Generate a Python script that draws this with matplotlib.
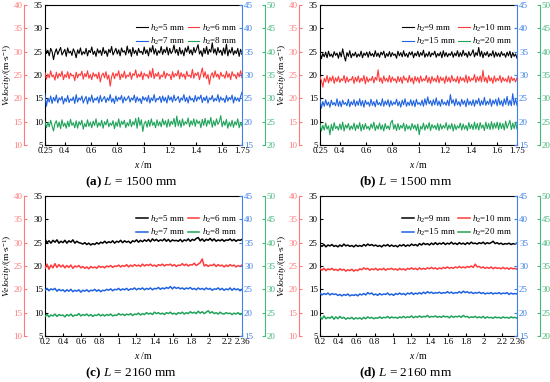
import numpy as np
import matplotlib.pyplot as plt

plt.rcParams['font.family'] = ['Liberation Serif', 'DejaVu Serif']
plt.rcParams['mathtext.fontset'] = 'custom'
plt.rcParams['mathtext.rm'] = 'Liberation Serif'
plt.rcParams['mathtext.it'] = 'Liberation Serif:italic'
plt.rcParams['mathtext.bf'] = 'Liberation Serif:bold'

# velocity samples (m/s); each on its own y axis
# (a) L = 1500 mm
a_h5 = [26.4, 24.6, 25.3, 24.1, 25.7, 25.0, 23.3, 24.8, 25.6, 24.4, 25.2, 25.9, 24.3, 24.9,
        25.5, 24.0, 25.8, 24.7, 25.1, 24.2, 25.6, 24.9, 23.7, 25.4, 24.6, 25.8, 24.3, 25.0,
        24.5, 25.7, 24.1, 25.3, 24.8, 26.0, 24.4, 25.1, 24.0, 25.6, 24.7, 25.3, 24.2, 25.9,
        24.6, 25.2, 24.0, 25.5, 24.8, 26.1, 24.3, 25.0, 25.7, 24.5, 25.4, 24.1, 25.8, 24.9,
        25.2, 24.3, 26.2, 24.7, 25.5, 24.0, 25.9, 24.6, 25.3, 24.2, 25.7, 24.8, 25.1, 24.4,
        26.0, 24.6, 25.4, 24.1, 25.8, 24.9, 26.3, 24.5, 25.6, 24.2, 25.2, 24.7, 26.1, 24.4,
        25.5, 24.8, 26.0, 24.3, 25.7, 24.6, 25.1, 26.4, 24.7, 25.5, 24.2, 25.9, 24.5, 25.3,
        24.1, 25.8, 24.9, 26.2, 24.6, 25.4, 24.3, 25.9, 24.8, 25.6, 26.5, 24.5, 25.2, 24.0,
        25.7, 24.6, 26.1, 24.4, 25.5, 24.9, 26.9, 24.7, 25.6, 24.3, 25.9, 24.8, 25.3, 24.2,
        25.8, 24.5, 26.6, 24.1, 25.4, 24.7, 25.9, 24.3, 25.2, 24.6, 25.7, 24.0, 25.5, 24.4]
a_h6 = [25.5, 24.1, 25.2, 24.4, 25.9, 24.6, 25.0, 23.9, 25.6, 24.3, 25.3, 24.7, 25.8, 24.0,
        25.1, 24.5, 25.7, 24.2, 25.4, 24.8, 25.0, 23.8, 25.6, 24.4, 25.2, 24.9, 25.8, 24.1,
        25.3, 24.6, 25.9, 24.3, 25.1, 24.0, 25.5, 24.7, 25.2, 24.2, 25.6, 23.5, 24.9, 25.4,
        24.4, 25.7, 24.1, 25.0, 22.6, 24.6, 25.5, 24.2, 25.3, 24.8, 25.9, 24.0, 25.2, 24.5,
        25.8, 24.3, 25.0, 24.7, 25.6, 24.1, 25.3, 24.9, 26.1, 24.4, 25.2, 24.6, 25.7, 24.0,
        25.4, 24.8, 25.1, 24.3, 25.9, 24.5, 26.4, 24.2, 25.3, 24.7, 25.6, 24.1, 25.0, 24.6,
        25.8, 24.3, 25.4, 24.9, 25.1, 24.0, 25.7, 24.5, 25.3, 24.8, 26.0, 24.2, 25.5, 24.6,
        25.2, 24.1, 25.8, 24.7, 25.0, 24.4, 26.2, 24.3, 25.4, 24.9, 25.6, 24.0, 25.3, 26.5,
        24.5, 25.7, 24.2, 25.1, 23.0, 24.8, 25.5, 24.4, 25.9, 24.6, 25.2, 24.1, 25.6, 24.7,
        25.0, 24.3, 25.8, 24.5, 25.3, 24.0, 25.7, 24.8, 25.1, 24.2, 25.5, 24.6, 25.9, 24.4]
a_h7 = [25.9, 23.3, 25.0, 24.2, 25.5, 23.9, 25.2, 24.4, 25.7, 24.0, 25.1, 24.6, 25.4, 23.8,
        25.0, 24.3, 25.6, 24.1, 24.9, 24.5, 25.3, 23.9, 25.8, 24.2, 25.1, 24.6, 25.5, 24.0,
        24.8, 25.4, 23.8, 25.2, 24.4, 25.7, 24.1, 25.0, 24.6, 25.3, 24.0, 25.6, 24.3, 24.9,
        25.4, 24.1, 25.1, 24.5, 25.8, 24.2, 25.0, 23.9, 25.5, 24.4, 25.2, 24.7, 25.6, 24.0,
        25.3, 24.5, 24.9, 25.5, 24.2, 25.1, 24.6, 25.7, 24.1, 25.3, 24.4, 25.0, 23.9, 25.4,
        24.6, 25.2, 24.3, 25.6, 24.0, 25.1, 24.5, 25.8, 24.2, 25.0, 24.7, 25.4, 24.1, 25.5,
        24.4, 25.2, 24.0, 25.6, 24.6, 25.3, 24.2, 25.7, 24.5, 24.9, 25.4, 24.1, 25.1, 24.6,
        25.8, 24.3, 25.2, 24.0, 25.5, 24.6, 25.0, 24.2, 25.6, 24.4, 25.3, 24.8, 25.7, 24.1,
        25.2, 24.5, 25.5, 24.0, 25.1, 24.7, 25.6, 24.3, 25.0, 24.5, 25.8, 24.2, 25.3, 24.6,
        25.0, 24.1, 25.6, 24.4, 25.2, 24.7, 25.7, 24.0, 25.3, 24.5, 25.1, 24.3, 25.4, 26.3]
a_h8 = [25.0, 23.7, 24.8, 23.9, 25.3, 24.1, 23.0, 24.6, 25.2, 23.8, 24.9, 23.5, 25.4, 24.0,
        24.7, 23.6, 25.1, 23.9, 25.5, 24.2, 24.8, 23.7, 25.2, 23.6, 25.0, 24.3, 25.3, 23.4,
        24.6, 23.9, 25.4, 24.0, 24.9, 23.7, 25.1, 24.2, 25.6, 23.8, 24.8, 24.1, 25.3, 23.6,
        25.0, 24.3, 25.5, 23.9, 24.7, 24.2, 25.2, 23.5, 24.9, 24.0, 25.6, 23.8, 25.1, 24.4,
        25.3, 23.7, 24.8, 24.1, 25.5, 23.9, 25.0, 24.3, 25.7, 23.6, 25.9, 24.2, 25.4, 22.9,
        24.6, 25.1, 23.8, 25.3, 24.0, 25.6, 24.2, 24.9, 23.7, 25.4, 24.1, 25.0, 23.9, 25.6,
        24.3, 25.2, 23.8, 25.5, 24.0, 25.1, 24.4, 25.7, 23.9, 26.2, 24.1, 25.3, 23.8, 25.6,
        24.2, 25.0, 24.5, 25.8, 23.9, 25.2, 24.3, 25.6, 24.0, 25.4, 24.6, 25.1, 23.7, 25.5,
        24.2, 25.7, 24.0, 25.3, 24.5, 25.9, 23.8, 25.2, 24.1, 25.6, 24.4, 25.0, 26.3, 23.9,
        25.1, 24.2, 25.5, 23.6, 24.9, 24.0, 25.3, 23.8, 25.0, 24.3, 25.6, 23.7, 24.8, 24.1]

# (b) L = 1500 mm
b_h9 = [25.0, 23.5, 24.6, 23.9, 24.9, 23.7, 25.1, 24.0, 24.5, 23.8, 25.0, 24.2, 24.7, 23.6,
        24.9, 23.9, 25.6, 24.1, 23.0, 24.8, 24.0, 25.2, 23.7, 24.6, 24.1, 24.9, 23.8, 24.5,
        24.0, 25.1, 23.7, 24.7, 24.2, 24.9, 23.8, 25.0, 24.1, 24.6, 23.9, 25.2, 24.0, 24.7,
        23.8, 24.9, 24.3, 25.1, 23.7, 24.6, 24.0, 25.0, 23.9, 24.8, 24.2, 24.5, 23.6, 25.1,
        24.1, 24.8, 23.9, 25.2, 24.0, 24.6, 23.8, 24.9, 24.3, 25.0, 23.7, 24.7, 24.1, 25.1,
        23.9, 24.8, 24.2, 25.3, 23.8, 24.6, 24.0, 25.0, 23.9, 24.7, 24.3, 25.1, 23.8, 24.6,
        24.1, 24.9, 23.7, 25.2, 24.0, 24.8, 23.9, 24.6, 24.2, 25.0, 23.8, 24.7, 24.1, 25.2,
        23.9, 24.8, 24.0, 25.3, 24.2, 24.7, 23.8, 25.0, 24.1, 24.6, 25.4, 23.9, 24.8, 24.2,
        25.9, 24.0, 25.1, 23.7, 24.8, 24.2, 25.0, 23.9, 24.6, 24.1, 25.2, 23.8, 24.9, 24.0,
        24.7, 23.9, 25.0, 24.2, 24.6, 23.8, 24.9, 24.1, 25.1, 23.7, 24.8, 24.0, 24.5, 23.6]
b_h10 = [24.6, 23.8, 22.4, 24.3, 23.5, 24.9, 23.3, 24.5, 23.7, 24.8, 23.2, 24.4, 23.6, 24.7,
         23.4, 24.2, 23.8, 24.9, 23.3, 24.6, 23.5, 24.1, 23.9, 24.7, 23.2, 24.5, 23.6, 24.8,
         23.4, 24.3, 23.7, 24.9, 23.1, 24.6, 23.5, 24.2, 23.8, 24.7, 23.3, 24.5, 23.9, 26.1,
         23.6, 24.4, 23.2, 24.8, 23.7, 24.3, 23.5, 24.9, 23.4, 24.6, 23.8, 24.2, 23.3, 24.7,
         23.6, 24.5, 23.2, 24.8, 23.9, 24.3, 23.4, 24.9, 23.6, 24.4, 23.1, 24.7, 23.7, 24.5,
         23.3, 24.8, 23.6, 24.2, 23.8, 24.9, 23.4, 24.5, 23.2, 24.7, 23.7, 24.3, 23.5, 24.9,
         23.3, 24.6, 23.8, 24.4, 23.2, 24.8, 23.6, 24.5, 23.4, 24.9, 23.7, 24.2, 23.5, 24.7,
         23.2, 24.6, 23.8, 24.4, 23.5, 25.0, 23.3, 24.7, 23.6, 24.3, 23.9, 25.1, 23.4, 24.6,
         23.7, 24.8, 23.5, 26.0, 23.6, 24.5, 23.3, 24.9, 23.7, 24.4, 23.2, 24.8, 23.6, 24.3,
         23.8, 24.9, 23.4, 24.5, 23.7, 24.2, 23.5, 24.8, 23.3, 24.6, 23.8, 24.3, 23.5, 24.4]
b_h15 = [24.8, 22.9, 24.3, 23.3, 24.7, 23.5, 24.2, 23.1, 24.6, 23.6, 24.1, 23.4, 24.9, 23.3,
         24.4, 23.2, 24.6, 23.7, 24.1, 23.4, 24.8, 23.2, 24.3, 23.6, 24.7, 23.3, 24.4, 23.5,
         24.9, 23.4, 24.5, 23.1, 24.6, 23.7, 24.2, 23.3, 24.8, 23.5, 24.3, 23.2, 24.7, 23.6,
         24.1, 23.4, 24.9, 23.3, 24.4, 23.6, 24.7, 23.2, 24.5, 23.5, 24.2, 23.7, 24.8, 23.4,
         24.3, 23.1, 24.6, 23.6, 24.9, 23.3, 24.2, 23.5, 24.7, 23.4, 24.5, 23.2, 24.8, 23.7,
         24.1, 23.5, 24.6, 23.3, 24.9, 23.6, 25.3, 23.8, 24.5, 23.4, 24.7, 23.6, 25.1, 23.5,
         24.4, 23.3, 24.8, 23.7, 24.2, 23.5, 24.6, 23.4, 25.8, 23.9, 24.7, 23.4, 24.9, 23.6,
         24.3, 23.3, 24.8, 23.7, 24.5, 23.2, 24.9, 23.6, 24.4, 23.5, 24.7, 23.3, 24.6, 23.8,
         25.0, 23.4, 24.5, 23.6, 25.2, 23.5, 24.4, 23.7, 24.9, 23.3, 24.6, 23.8, 24.8, 23.4,
         25.1, 23.6, 24.5, 23.3, 24.9, 23.7, 25.4, 23.5, 24.6, 23.4, 26.0, 23.6, 24.8, 23.5]
b_h20 = [24.6, 23.0, 24.2, 23.2, 24.7, 23.4, 24.1, 22.2, 24.4, 23.1, 24.8, 23.5, 24.0, 23.2,
         24.5, 23.3, 24.9, 23.0, 24.3, 23.6, 24.6, 23.2, 24.1, 23.4, 24.7, 23.1, 24.3, 23.5,
         24.8, 23.0, 24.4, 23.3, 24.6, 23.5, 24.0, 23.2, 24.5, 23.6, 24.9, 23.1, 24.2, 23.4,
         24.7, 23.3, 24.3, 23.0, 24.6, 23.5, 24.1, 23.3, 24.8, 25.3, 23.4, 24.4, 23.1, 24.6,
         23.3, 24.2, 23.6, 24.7, 23.0, 24.4, 23.4, 24.1, 23.2, 24.6, 23.5, 24.3, 23.1, 24.5,
         22.2, 24.0, 23.4, 24.7, 23.2, 24.3, 23.5, 24.8, 23.1, 24.4, 23.6, 24.2, 23.3, 24.6,
         23.1, 24.5, 23.4, 24.2, 23.6, 24.8, 23.2, 24.3, 23.5, 24.6, 23.0, 24.4, 23.3, 24.1,
         23.6, 24.7, 23.2, 24.5, 23.4, 24.2, 23.1, 24.8, 23.5, 24.4, 23.3, 24.9, 23.4, 24.6,
         23.2, 24.8, 23.6, 24.3, 23.1, 24.9, 23.5, 24.6, 23.3, 25.0, 23.4, 24.7, 23.6, 24.9,
         23.3, 24.8, 23.5, 24.6, 23.2, 25.1, 23.6, 24.4, 25.3, 23.3, 24.7, 23.5, 24.9, 23.4]

# (c) L = 2160 mm
c_h5 = [25.8, 25.0, 25.4, 24.9, 25.5, 25.1, 25.6, 24.9, 25.3, 25.0,
        25.5, 24.9, 25.4, 25.1, 25.6, 24.9, 25.3, 25.0, 24.9, 24.7,
        25.0, 24.6, 24.9, 24.5, 24.8, 24.6, 25.0, 24.7, 25.1, 24.9,
        25.3, 24.9, 25.2, 25.0, 25.4, 24.9, 25.3, 25.1, 25.5, 25.0,
        25.4, 25.1, 25.3, 24.9, 25.4, 25.2, 25.6, 25.1, 25.5, 25.2,
        25.6, 25.3, 25.7, 25.2, 25.8, 25.4, 25.7, 25.3, 25.6, 25.4,
        25.8, 25.3, 25.7, 25.2, 25.6, 25.4, 25.5, 25.3, 25.7, 25.2,
        25.6, 25.4, 25.8, 25.3, 25.7, 25.5, 25.9, 26.1, 25.4, 25.8,
        25.3, 25.7, 25.5, 25.9, 25.4, 25.8, 25.3, 25.6, 25.4, 25.7,
        25.3, 25.6, 25.5, 25.8, 25.4, 25.7, 25.3, 25.6, 25.5, 25.7]
c_h6 = [24.5, 25.4, 24.3, 25.2, 24.6, 25.5, 24.7, 25.3, 24.8, 25.2,
        24.6, 25.1, 24.7, 25.2, 24.5, 25.0, 24.8, 25.1, 24.6, 24.9,
        24.5, 24.8, 24.4, 24.9, 24.6, 24.8, 24.5, 25.0, 24.7, 24.9,
        24.6, 25.0, 24.8, 25.1, 24.7, 25.0, 24.9, 25.2, 24.8, 25.1,
        24.9, 25.3, 24.8, 25.2, 24.9, 25.3, 25.0, 25.2, 24.9, 25.4,
        25.0, 25.3, 25.1, 25.4, 25.0, 25.2, 24.9, 25.3, 25.1, 25.4,
        25.0, 25.3, 25.2, 25.4, 25.0, 25.3, 24.9, 25.2, 25.1, 25.5,
        25.1, 25.4, 25.0, 25.3, 25.2, 25.6, 25.1, 25.4, 25.7, 26.5,
        25.0, 25.3, 24.9, 25.2, 25.1, 25.4, 24.9, 25.3, 25.0, 25.2,
        24.8, 25.2, 24.9, 25.3, 25.0, 25.2, 24.8, 25.1, 24.9, 25.2]
c_h7 = [24.8, 25.2, 24.7, 25.1, 24.9, 25.2, 24.6, 25.0, 24.7, 24.9,
        24.5, 24.9, 24.6, 25.0, 24.5, 24.8, 24.6, 24.9, 24.4, 24.8,
        24.6, 24.9, 24.5, 24.8, 24.7, 25.0, 24.6, 24.9, 24.5, 24.8,
        24.7, 25.0, 24.8, 25.1, 24.7, 25.0, 24.9, 25.2, 24.8, 25.1,
        24.9, 25.2, 24.8, 25.1, 25.0, 25.3, 24.9, 25.2, 25.0, 25.3,
        24.9, 25.2, 25.0, 25.3, 24.9, 25.2, 25.1, 25.4, 25.0, 25.3,
        25.1, 25.4, 25.2, 25.6, 25.1, 25.5, 25.2, 25.4, 25.1, 25.3,
        25.0, 25.3, 25.1, 25.4, 25.0, 25.2, 24.9, 25.3, 25.0, 25.2,
        24.9, 25.3, 25.0, 25.2, 24.8, 25.1, 25.0, 25.3, 24.9, 25.2,
        24.8, 25.1, 24.9, 25.3, 24.8, 25.2, 24.9, 25.1, 24.7, 25.0]
c_h8 = [24.2, 24.6, 24.1, 24.5, 24.3, 24.7, 24.2, 24.6, 24.4, 24.5,
        24.1, 24.6, 24.3, 24.7, 24.2, 24.5, 24.4, 24.8, 24.3, 24.6,
        24.4, 24.7, 24.3, 24.6, 24.2, 24.5, 24.4, 24.7, 24.3, 24.6,
        24.3, 24.6, 24.4, 24.7, 24.3, 24.5, 24.4, 24.8, 24.5, 24.7,
        24.4, 24.7, 24.5, 24.8, 24.4, 24.7, 24.6, 24.9, 24.5, 24.8,
        24.6, 25.0, 24.7, 24.9, 24.6, 25.1, 24.8, 25.0, 24.7, 24.9,
        24.6, 25.0, 24.8, 25.1, 24.7, 24.9, 24.6, 25.0, 24.8, 25.1,
        24.7, 25.0, 24.8, 25.2, 24.9, 25.1, 24.8, 25.3, 24.9, 25.2,
        24.8, 25.1, 25.4, 24.9, 25.2, 24.8, 25.0, 24.7, 25.1, 24.8,
        24.7, 25.0, 24.8, 24.9, 24.6, 24.9, 24.7, 25.0, 24.6, 24.8]

# (d) L = 2160 mm
d_h9 = [24.5, 24.2, 24.6, 24.1, 24.5, 24.3, 24.6, 24.2, 24.4, 24.1,
        24.5, 24.2, 24.7, 24.3, 24.5, 24.2, 24.4, 24.1, 24.5, 24.2,
        24.4, 24.2, 24.6, 24.3, 24.7, 24.4, 24.6, 24.3, 24.5, 24.2,
        24.4, 24.1, 24.5, 24.3, 24.6, 24.2, 24.5, 24.2, 24.4, 24.1,
        24.5, 24.3, 24.6, 24.2, 24.5, 24.3, 24.7, 24.4, 24.6, 24.3,
        24.8, 24.5, 24.9, 24.6, 24.8, 24.5, 24.9, 24.6, 25.0, 24.6,
        24.9, 24.7, 25.0, 24.6, 24.9, 24.7, 25.1, 24.7, 24.9, 24.6,
        25.0, 24.7, 24.9, 24.6, 25.0, 24.7, 25.1, 24.8, 24.9, 24.7,
        25.0, 24.8, 25.1, 24.7, 25.0, 24.8, 25.0, 25.3, 24.8, 25.0,
        24.7, 24.9, 24.6, 24.8, 24.7, 24.9, 24.6, 24.8, 24.7, 24.9]
d_h10 = [24.4, 24.1, 24.5, 24.0, 24.4, 24.2, 24.5, 24.1, 24.3, 24.0,
         24.4, 24.1, 24.3, 23.9, 24.2, 24.0, 24.3, 23.9, 24.2, 24.0,
         24.4, 24.2, 24.6, 24.3, 24.5, 24.1, 24.4, 24.2, 24.5, 24.1,
         24.4, 24.2, 24.5, 24.1, 24.4, 24.3, 24.5, 24.2, 24.4, 24.1,
         24.5, 24.2, 24.4, 24.1, 24.5, 24.3, 24.6, 24.3, 24.5, 24.2,
         24.6, 24.3, 24.5, 24.3, 24.6, 24.4, 24.7, 24.4, 24.6, 24.3,
         24.6, 24.4, 24.7, 24.5, 24.8, 24.5, 24.7, 24.5, 24.8, 24.6,
         24.9, 24.6, 24.8, 24.6, 24.9, 24.7, 25.0, 24.7, 25.4, 24.8,
         24.9, 24.6, 24.8, 24.5, 24.7, 24.5, 24.8, 24.4, 24.7, 24.5,
         24.6, 24.4, 24.7, 24.4, 24.6, 24.3, 24.6, 24.4, 24.5, 24.3]
d_h15 = [24.2, 23.8, 24.1, 23.9, 24.2, 23.8, 24.1, 23.9, 24.0, 23.7,
         23.9, 23.6, 23.9, 23.7, 24.0, 23.6, 23.8, 23.7, 23.9, 23.6,
         24.0, 23.8, 24.1, 23.8, 24.3, 24.0, 24.2, 23.8, 24.0, 23.7,
         24.1, 23.8, 24.0, 23.9, 24.2, 23.8, 24.0, 23.7, 24.1, 23.9,
         24.2, 23.9, 24.1, 23.8, 24.2, 24.0, 24.3, 23.9, 24.2, 24.0,
         24.3, 24.0, 24.4, 24.1, 24.5, 24.2, 24.4, 24.1, 24.3, 24.2,
         24.4, 24.1, 24.3, 24.2, 24.5, 24.2, 24.4, 24.1, 24.3, 24.2,
         24.5, 24.2, 24.6, 24.3, 24.5, 24.2, 24.4, 24.1, 24.3, 24.2,
         24.4, 24.1, 24.3, 24.0, 24.2, 24.1, 24.3, 24.0, 24.2, 24.1,
         24.3, 24.0, 24.2, 24.1, 24.3, 23.9, 24.2, 24.0, 24.1, 24.0]
d_h20 = [24.1, 23.6, 24.3, 23.7, 24.0, 23.8, 24.2, 23.6, 24.1, 23.7,
         24.2, 23.8, 24.0, 23.6, 23.9, 23.7, 24.0, 23.6, 23.9, 23.7,
         23.9, 23.6, 24.0, 23.7, 24.1, 23.8, 24.0, 23.7, 23.9, 23.8,
         24.1, 23.8, 24.0, 23.9, 24.2, 23.8, 24.1, 23.9, 24.0, 23.8,
         24.1, 23.9, 24.2, 23.9, 24.1, 24.0, 24.3, 23.9, 24.2, 24.0,
         24.3, 24.0, 24.2, 24.1, 24.4, 24.0, 24.2, 24.1, 24.3, 24.0,
         24.2, 24.0, 24.3, 24.1, 24.2, 23.9, 24.3, 24.0, 24.2, 24.1,
         24.3, 24.0, 24.4, 24.1, 24.2, 23.9, 24.1, 24.0, 24.2, 23.9,
         24.1, 23.9, 24.2, 23.8, 24.1, 23.9, 24.0, 23.8, 24.1, 23.9,
         24.0, 23.8, 24.1, 23.9, 24.0, 23.8, 24.1, 23.9, 24.0, 23.8]

x_1500 = (0.25, 1.75)
x_2160 = (0.2, 2.36)
xt_1500 = [0.25, 0.4, 0.6, 0.8, 1.0, 1.2, 1.4, 1.6, 1.75]
xtl_1500 = ['0.25', '0.4', '0.6', '0.8', '1', '1.2', '1.4', '1.6', '1.75']
xt_2160 = [0.2, 0.4, 0.6, 0.8, 1.0, 1.2, 1.4, 1.6, 1.8, 2.0, 2.2, 2.36]
xtl_2160 = ['0.2', '0.4', '0.6', '0.8', '1', '1.2', '1.4', '1.6', '1.8', '2', '2.2', '2.36']
h_small = ['5', '6', '7', '8']
h_large = ['9', '10', '15', '20']

RED, BLUE, GREEN = '#ff3a3a', '#1f62e0', '#1fa35a'
RED_AX, BLUE_AX, GREEN_AX = '#ff7b7b', '#3d80e6', '#45b87a'

W, H = 550, 382
fig = plt.figure(figsize=(5.5, 3.82), dpi=100)


def panel(left, top, xr, xt, xtl, ys, hs, cap, lw):
    ax = fig.add_axes([left / W, 1 - (top + 140) / H, 197 / W, 140 / H])
    axr = ax.twinx()
    axb = ax.twinx()
    axg = ax.twinx()

    lines = []
    for a, y, c in zip([ax, axr, axb, axg], ys, ['black', RED, BLUE, GREEN]):
        x = np.linspace(xr[0], xr[1], len(y))
        l, = a.plot(x, y, color=c, lw=lw)
        lines.append(l)

    ax.set_xlim(*xr)
    ax.set_xticks(xt)
    ax.set_xticklabels(xtl)
    ax.set_ylim(5, 35)
    ax.set_yticks(range(5, 36, 5))
    ax.spines['right'].set_visible(False)
    ax.tick_params(direction='in', length=2.5, labelsize=6.5, pad=1.5)
    ax.set_xlabel(r'$\mathit{x}$ /m', fontsize=7)
    ax.xaxis.set_label_coords(0.5, -0.1)
    ax.set_ylabel(r'$\mathit{Velocity}$/(m$\cdot$s$^{-1}$)', fontsize=6.8, va='center')
    ax.yaxis.set_label_coords(-0.192, 0.5)

    # red axis on the far left
    axr.set_ylim(10, 40)
    axr.set_yticks(range(10, 41, 5))
    axr.yaxis.set_ticks_position('left')
    axr.spines['left'].set_position(('axes', -21 / 197))
    for s in ['right', 'top', 'bottom']:
        axr.spines[s].set_visible(False)
    axr.spines['left'].set_visible(True)
    axr.spines['left'].set_color(RED_AX)
    axr.tick_params(axis='y', colors=RED_AX, direction='in', length=2.5, labelsize=6.5, pad=1.0)

    # blue axis on the frame's right side
    axb.set_ylim(15, 45)
    axb.set_yticks(range(15, 46, 5))
    for s in ['left', 'top', 'bottom']:
        axb.spines[s].set_visible(False)
    axb.spines['right'].set_color(BLUE_AX)
    axb.tick_params(axis='y', colors=BLUE_AX, direction='in', length=2.5, labelsize=6.5, pad=1.5)

    # green axis further right
    axg.set_ylim(20, 50)
    axg.set_yticks(range(20, 51, 5))
    axg.spines['right'].set_position(('axes', 1 + 23 / 197))
    for s in ['left', 'top', 'bottom']:
        axg.spines[s].set_visible(False)
    axg.spines['right'].set_color(GREEN_AX)
    axg.tick_params(axis='y', colors=GREEN_AX, direction='in', length=2.5, labelsize=6.5, pad=1.2)

    labs = [r'$\mathit{h}_2$=' + h + ' mm' for h in hs]
    order = [0, 2, 1, 3]
    axg.legend([lines[i] for i in order], [labs[i] for i in order], ncol=2, loc='upper right',
               bbox_to_anchor=(0.995, 0.9), frameon=False, fontsize=6.5, handlelength=1.3,
               handletextpad=0.3, columnspacing=0.2, labelspacing=0.25, borderaxespad=0)

    fig.text((left + 86) / W, 1 - (top + 177) / H, cap, ha='center', va='center', fontsize=9.5)


panel(45, 5, x_1500, xt_1500, xtl_1500, [a_h5, a_h6, a_h7, a_h8], h_small,
      r'$\mathbf{(a)}$ $\mathit{L}$ = 1500 mm', 0.8)
panel(320, 5, x_1500, xt_1500, xtl_1500, [b_h9, b_h10, b_h15, b_h20], h_large,
      r'$\mathbf{(b)}$ $\mathit{L}$ = 1500 mm', 0.8)
panel(45, 196, x_2160, xt_2160, xtl_2160, [c_h5, c_h6, c_h7, c_h8], h_small,
      r'$\mathbf{(c)}$ $\mathit{L}$ = 2160 mm', 1.1)
panel(320, 196, x_2160, xt_2160, xtl_2160, [d_h9, d_h10, d_h15, d_h20], h_large,
      r'$\mathbf{(d)}$ $\mathit{L}$ = 2160 mm', 1.1)

fig.savefig('out.png', dpi=100)
